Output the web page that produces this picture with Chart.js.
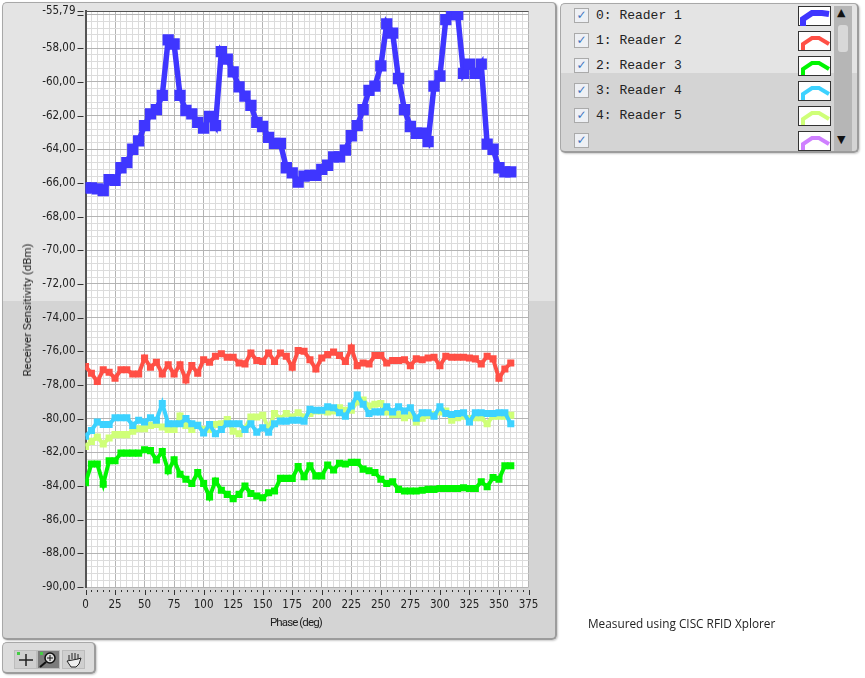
<!DOCTYPE html>
<html>
<head>
<meta charset="utf-8">
<script src="https://cdn.jsdelivr.net/npm/chart.js@4/dist/chart.umd.min.js"></script>
<style>
html, body { margin: 0; padding: 0; background: #fff; }
body { width: 865px; height: 678px; position: relative; overflow: hidden; font-family: "Open Sans", sans-serif; }
.panel { position: absolute; box-sizing: border-box; border: 1px solid #a8a8a8; border-right: 2px solid #9c9c9c; border-bottom: 2px solid #9c9c9c; border-radius: 5px; box-shadow: 1px 1px 2px #ccc; }
#graphPanel { left: 2px; top: 2px; width: 555px; height: 638px; background: linear-gradient(#e4e4e4 0, #e4e4e4 298px, #d4d4d4 298px); }
#legendPanel { left: 560px; top: 3px; width: 299px; height: 150px; background: linear-gradient(#e4e4e4 0, #e4e4e4 69px, #d4d4d4 69px); }
#toolPanel { left: 2px; top: 642px; width: 94px; height: 32px; background: #dcdcdc; }
#chart { position: absolute; left: 0; top: 0; }
.row { position: absolute; left: 13px; height: 22px; width: 270px; }
.check { position: absolute; left: 0; top: 2px; width: 13px; height: 13px; border: 1px solid #aaa; background: #eef0f4; color: #3f74c0; font: bold 12px/13px "DejaVu Sans"; text-align: center; }
.name { position: absolute; left: 22px; top: 2px; font: 13px/16px "Liberation Mono", monospace; color: #222; white-space: pre; }
.swatch { position: absolute; left: 224px; top: 0; }
#scroll { position: absolute; left: 273px; top: 2px; width: 18px; height: 145px; background: #b6b6b6; }
#thumb { position: absolute; left: 4px; top: 19px; width: 10px; height: 27px; background: #d8d8d8; border-radius: 3px; }
.arrow { position: absolute; left: 3px; font: 11px/12px "DejaVu Sans"; color: #111; }
#note { position: absolute; left: 588px; top: 615px; font: 11.8px/16px "Open Sans", sans-serif; color: #222; white-space: nowrap; }
.axisTitle { position: absolute; font: 11.5px/16px Roboto, sans-serif; color: #222; white-space: nowrap; }
#xTitle { left: 270px; top: 614px; letter-spacing: -0.9px; }
#yTitle { left: 27px; top: 310px; transform: translate(-50%, -50%) rotate(-90deg); }
.tool { position: absolute; top: 7px; width: 21px; height: 17px; background: #cfcfcf; border: 1px solid #bcbcbc; }
</style>
</head>
<body>
<div class="panel" id="graphPanel"></div>
<div class="panel" id="legendPanel"><div id="scroll"><div class="arrow" style="top:1px">▲</div><div id="thumb"></div><div class="arrow" style="top:128px">▼</div></div></div>
<div class="panel" id="toolPanel">
  <div class="tool" style="left:11px"><svg width="21" height="17"><path d="M4 9H18M11 3V15" stroke="#222" stroke-width="1.5"/><rect x="2" y="1" width="3" height="3" fill="#4c4"/></svg></div>
  <div class="tool" style="left:34px;background:#7c7c7c"><svg width="21" height="17"><circle cx="12" cy="7" r="5" fill="#ddd" stroke="#111" stroke-width="1.5"/><path d="M9 7H15M12 4V10" stroke="#111"/><path d="M8 11L2 16" stroke="#111" stroke-width="2"/><rect x="2" y="1" width="3" height="3" fill="#4c4"/></svg></div>
  <div class="tool" style="left:59px"><svg width="21" height="17"><path d="M6 9V4M9 8V2M12 8V2M15 8V3M15 8L18 7L16 13L13 16H8L4 10Z" fill="#eee" stroke="#222"/></svg></div>
</div>
<canvas id="chart" width="865" height="678"></canvas>
<div class="axisTitle" id="xTitle">Phase (deg)</div>
<div class="axisTitle" id="yTitle">Receiver Sensitivity (dBm)</div>
<div id="note">Measured using CISC RFID Xplorer</div>
<script>
var phase = [0,5,10,15,20,25,30,35,40,45,50,55,60,65,70,75,80,85,90,95,100,105,110,115,120,125,130,135,140,145,150,155,160,165,170,175,180,185,190,195,200,205,210,215,220,225,230,235,240,245,250,255,260,265,270,275,280,285,290,295,300,305,310,315,320,325,330,335,340,345,350,355,360];

var reader1 = [-66.3,-66.3,-66.35,-66.45,-65.8,-65.85,-65.1,-64.8,-64.0,-63.5,-62.6,-61.9,-61.65,-60.8,-57.5,-57.75,-60.8,-61.7,-61.9,-62.4,-62.75,-62.05,-62.6,-58.2,-58.65,-59.4,-60.3,-60.85,-61.4,-62.4,-62.65,-63.3,-63.65,-63.65,-65.1,-65.4,-65.95,-65.6,-65.55,-65.55,-65.2,-64.95,-64.45,-64.45,-64.05,-63.2,-62.6,-61.65,-60.5,-60.25,-59.05,-56.55,-57.1,-59.8,-61.65,-62.65,-63.05,-63.05,-63.55,-60.25,-59.65,-56.3,-56.0,-56.0,-59.5,-58.95,-59.5,-58.95,-63.7,-64.0,-65.1,-65.35,-65.35];
var reader2 = [-76.9,-77.3,-77.8,-77.1,-77.25,-77.6,-77.1,-77.1,-77.35,-77.35,-76.4,-76.95,-76.65,-77.35,-76.8,-77.35,-76.8,-77.7,-76.85,-77.3,-76.5,-76.65,-76.3,-76.15,-76.35,-76.35,-76.7,-76.75,-76.1,-76.55,-76.6,-76.1,-76.6,-76.1,-76.3,-76.95,-75.95,-76.0,-76.5,-77.05,-76.4,-76.2,-76.05,-76.25,-76.6,-75.8,-76.85,-76.7,-76.75,-76.25,-76.25,-76.7,-76.55,-76.55,-76.5,-76.85,-76.45,-76.5,-76.4,-76.35,-76.85,-76.3,-76.35,-76.35,-76.35,-76.4,-76.45,-76.75,-76.3,-76.45,-77.6,-77.05,-76.7];
var reader3 = [-83.8,-82.7,-82.7,-83.9,-82.5,-82.5,-82.05,-82.05,-82.05,-82.05,-81.85,-81.9,-82.45,-81.95,-83.1,-82.45,-83.3,-83.6,-83.85,-83.2,-83.85,-84.65,-83.7,-84.25,-84.5,-84.75,-84.5,-84.0,-84.45,-84.6,-84.7,-84.4,-84.3,-83.55,-83.55,-83.55,-82.85,-83.45,-82.8,-83.4,-83.4,-82.75,-83.05,-82.65,-82.7,-82.6,-82.6,-83.0,-83.1,-83.2,-83.6,-83.85,-83.75,-84.2,-84.3,-84.3,-84.3,-84.25,-84.2,-84.2,-84.15,-84.15,-84.15,-84.15,-84.1,-84.15,-84.15,-83.75,-84.05,-83.5,-83.6,-82.8,-82.8];
var reader4 = [-81.05,-80.7,-80.2,-80.35,-80.35,-79.95,-79.95,-79.95,-80.4,-80.1,-80.2,-79.95,-80.1,-79.1,-80.3,-80.3,-80.3,-80.0,-80.3,-80.4,-80.85,-80.35,-80.9,-80.65,-80.3,-80.3,-80.3,-80.65,-80.3,-80.8,-80.55,-80.8,-80.3,-80.15,-80.15,-80.1,-80.1,-80.15,-79.45,-79.5,-79.5,-79.3,-79.35,-79.65,-79.85,-79.25,-78.6,-79.15,-79.7,-79.6,-79.6,-79.3,-79.6,-79.3,-79.55,-79.35,-79.98,-79.65,-79.65,-79.85,-79.3,-79.7,-79.75,-79.7,-79.65,-80.2,-79.65,-79.65,-79.7,-79.7,-79.65,-79.65,-80.3];
var reader5 = [-81.65,-81.35,-81.1,-81.5,-81.15,-80.95,-80.95,-80.95,-80.75,-80.6,-80.6,-80.4,-80.35,-80.5,-80.65,-80.65,-79.85,-80.4,-80.65,-80.4,-80.65,-80.65,-80.35,-80.3,-80.05,-80.75,-80.9,-80.6,-79.9,-79.9,-79.8,-80.6,-79.7,-80.0,-79.7,-79.9,-79.65,-79.9,-79.7,-79.55,-79.55,-79.6,-79.55,-79.35,-79.5,-79.5,-79.0,-78.9,-79.25,-79.15,-79.1,-79.6,-79.75,-79.75,-79.95,-79.8,-80.2,-79.98,-79.8,-79.75,-79.6,-79.55,-80.1,-79.95,-79.85,-80.0,-79.95,-79.95,-80.3,-79.85,-79.85,-79.85,-79.8];

var seriesNames = ['Reader 1', 'Reader 2', 'Reader 3', 'Reader 4', 'Reader 5'];
var seriesValues = [reader1, reader2, reader3, reader4, reader5];
var seriesColors = ['#3f36ff', '#ff4f45', '#00f500', '#3dd2ff', '#cfff78'];
var legendRows = ['0: Reader 1', '1: Reader 2', '2: Reader 3', '3: Reader 4', '4: Reader 5', ''];
var legendColors = ['#3f36ff', '#ff4f45', '#00f500', '#3dd2ff', '#cfff78', '#cf80ff'];

var yTopValue = -55.79;
var yBottomValue = -90;

// legend rows on the right
var legendPanel = document.getElementById('legendPanel');
legendRows.forEach(function (txt, i) {
    var row = document.createElement('div');
    row.className = 'row';
    row.style.top = (2 + i * 25) + 'px';
    var shape = i == 0 ? 'M5 20V13L14 7H24L31 8' : 'M5 19V13L14 7H21L31 13';
    row.innerHTML = '<div class="check">✓</div><div class="name">' + txt + '</div>' +
        '<svg class="swatch" width="33" height="21"><rect x="0.5" y="0.5" width="32" height="19" fill="#fff" stroke="#333"/>' +
        '<path d="' + shape + '" fill="none" stroke="' + legendColors[i] + '" stroke-width="' + (i == 0 ? 6 : 4) + '"/></svg>';
    legendPanel.appendChild(row);
});

var datasets = seriesValues.map(function (vals, i) {
    return {
        label: seriesNames[i],
        data: vals.map(function (v, j) { return { x: phase[j], y: v }; }),
        borderColor: seriesColors[i],
        backgroundColor: seriesColors[i],
        borderWidth: i == 0 ? 5.5 : 4,
        pointStyle: 'rect',
        pointRadius: i == 0 ? 8 : 5,
        pointBorderWidth: 0,
        tension: 0
    };
});

// white plot area and the little tick marks outside of it
var plotExtras = {
    id: 'plotExtras',
    beforeDraw: function (chart) {
        var a = chart.chartArea, c = chart.ctx;
        c.save();
        c.fillStyle = '#fff';
        c.fillRect(a.left, a.top, a.right - a.left, a.bottom - a.top);
        c.restore();
    },
    afterDraw: function (chart) {
        var a = chart.chartArea, c = chart.ctx;
        c.save();
        c.strokeStyle = '#333';
        c.lineWidth = 1;
        chart.scales.x.ticks.forEach(function (t) {
            var px = Math.round(chart.scales.x.getPixelForValue(t.value)) + 0.5;
            c.beginPath();
            c.moveTo(px, a.bottom + 3);
            c.lineTo(px, a.bottom + (t.value % 25 == 0 ? 8 : 5));
            c.stroke();
        });
        chart.scales.y.ticks.forEach(function (t) {
            if (Math.round(t.value * 10) % 20 != 0 && t.value != yTopValue) return;
            var py = Math.round(chart.scales.y.getPixelForValue(t.value)) + 0.5;
            c.beginPath();
            c.moveTo(a.left - 8, py);
            c.lineTo(a.left - 2, py);
            c.stroke();
        });
        c.restore();
    }
};

var tickFont = { family: "'DejaVu Sans Condensed', Roboto, sans-serif", size: 11.5 };

new Chart(document.getElementById('chart'), {
    type: 'line',
    data: { datasets: datasets },
    plugins: [plotExtras],
    options: {
        responsive: false,
        animation: false,
        devicePixelRatio: 1,
        layout: { padding: { left: 20, top: 11, right: 336.5, bottom: 46 } },
        plugins: { legend: { display: false }, tooltip: { enabled: false } },
        scales: {
            x: {
                type: 'linear',
                min: 0,
                max: 375,
                ticks: {
                    stepSize: 5,
                    autoSkip: false,
                    maxRotation: 0,
                    padding: 11,
                    color: '#222',
                    font: tickFont,
                    callback: function (v) { return v % 25 == 0 ? String(v) : ''; }
                },
                grid: {
                    drawTicks: false,
                    color: function (ctx) { return ctx.tick.value % 25 == 0 ? '#b4b4b4' : '#dcdcdc'; }
                },
                border: { display: false },
                afterFit: function (s) { s.height = 45; s.paddingLeft = 0; s.paddingRight = 0; }
            },
            y: {
                type: 'linear',
                min: yBottomValue,
                max: yTopValue,
                afterBuildTicks: function (s) {
                    var t = [];
                    for (var i = 85; i >= 0; i--) t.push({ value: Math.round((-90 + i * 0.4) * 10) / 10 });
                    t.unshift({ value: yTopValue });
                    s.ticks = t;
                },
                ticks: {
                    autoSkip: false,
                    padding: 10,
                    color: '#222',
                    font: tickFont,
                    callback: function (v) {
                        if (v == yTopValue) return v.toFixed(2).replace('.', ',');
                        if (v == -56) return '';
                        return Math.round(v * 10) % 20 == 0 ? v.toFixed(2).replace('.', ',') : '';
                    }
                },
                grid: {
                    drawTicks: false,
                    color: function (ctx) {
                        var v = ctx.tick.value;
                        if (v == yTopValue) return '#555';
                        return Math.round(v * 10) % 20 == 0 ? '#b4b4b4' : '#dcdcdc';
                    }
                },
                border: { display: true, color: '#555', width: 2 },
                afterFit: function (s) { s.width = 65.5; s.paddingTop = 0; s.paddingBottom = 0; }
            }
        }
    }
});
</script>
</body>
</html>
